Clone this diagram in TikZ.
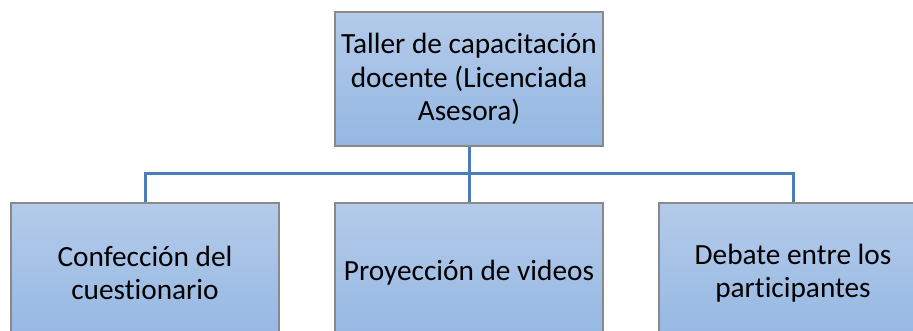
\documentclass[tikz,border=0pt]{standalone}
\usepackage{fontspec}
\setmainfont{Carlito}[Ligatures=NoCommon]
\usepackage{tikz}
\usepackage{xcolor}
\definecolor{boxtop}{RGB}{180,203,234}
\definecolor{boxbot}{RGB}{148,183,226}
\definecolor{boxline}{RGB}{137,137,137}
\definecolor{linkblue}{RGB}{74,126,187}
\tikzset{
  orgbox/.style={draw=boxline,line width=1.2pt,top color=boxtop,bottom color=boxbot,
    minimum width=268pt,minimum height=134pt,inner sep=0pt,align=center,
    font=\fontsize{29.3}{33.5}\selectfont},
  subbox/.style={orgbox,minimum height=140pt},
  link/.style={draw=linkblue,line width=3pt}
}
\begin{document}
\begin{tikzpicture}[x=1pt,y=-1pt]
\useasboundingbox (0,0) rectangle (913,331);
\clip (0,0) rectangle (913,331);

\node[orgbox] (taller) at (469,79) {Taller de capacitación\\docente (Licenciada\\Asesora)};
\node[subbox] (cuest) at (145,273) {Confección del\\cuestionario};
\node[subbox] (videos) at (469,273) {Proyección de videos};
\node[subbox] (debate) at (793,273) {Debate entre los\\participantes};

\coordinate (bar) at (469,174);
\draw[link] (taller.south) -- (bar);
\draw[link] (bar) -- (videos.north);
\draw[link] (bar) -| (cuest.north);
\draw[link] (bar) -| (debate.north);

\end{tikzpicture}
\end{document}
